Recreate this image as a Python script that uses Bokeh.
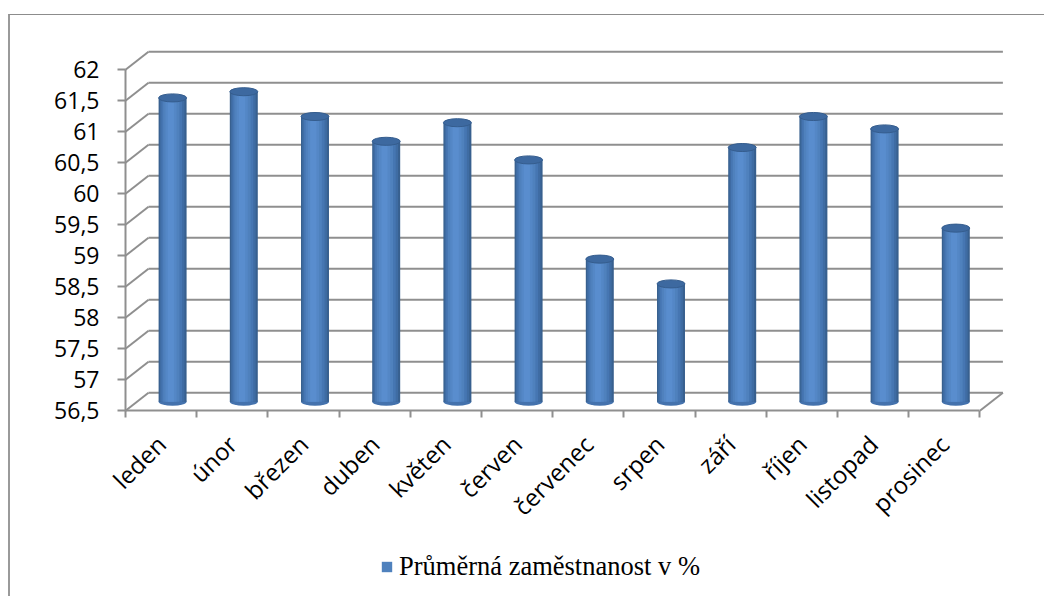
import math
from bokeh.plotting import figure
from bokeh.models import (Range1d, FixedTicker, ColumnDataSource, Legend, LegendItem)
from bokeh.embed import file_html
from bokeh.resources import INLINE

# ---- data ----
months = ["leden", "únor", "březen", "duben", "květen", "červen",
          "červenec", "srpen", "září", "říjen", "listopad", "prosinec"]
values = [61.4, 61.5, 61.1, 60.7, 61.0, 60.4, 58.8, 58.4, 60.6, 61.1, 60.9, 59.3]
y_ticks = [56.5, 57, 57.5, 58, 58.5, 59, 59.5, 60, 60.5, 61, 61.5, 62]
y_tick_labels = ["56,5", "57", "57,5", "58", "58,5", "59", "59,5", "60", "60,5", "61", "61,5", "62"]
series_name = "Průměrná zaměstnanost v %"

# ---- layout / 3D styling constants ----
n = len(months)
ymin = y_ticks[0]
DX = 0.323   # depth offset along x (data units)
DY = 0.29    # depth offset along y (data units)
CYL_W = 0.393
ELL_H = 0.13
GRID = "#8f8f8f"

CANVAS_W, CANVAS_H = 1036, 582
FRAME_TOP = 17
FRAME_LEFT = 10
FRAME_RIGHT_PAD = 31
AXIS_X = 115            # canvas x of the front-left axis
PX_PER_UNIT_Y = 62.0
Y_END = 62.6
Y_START = Y_END - (CANVAS_H - FRAME_TOP) / PX_PER_UNIT_Y
X_END = 12.5
PX_PER_UNIT_X = (CANVAS_W - FRAME_RIGHT_PAD - AXIS_X) / X_END
X_START = -(AXIS_X - FRAME_LEFT) / PX_PER_UNIT_X

p = figure(width=CANVAS_W, height=CANVAS_H,
           x_range=Range1d(X_START, X_END), y_range=Range1d(Y_START, Y_END),
           output_backend="svg", toolbar_location=None,
           min_border_left=FRAME_LEFT, min_border_right=FRAME_RIGHT_PAD,
           min_border_top=FRAME_TOP, min_border_bottom=0,
           styles={"margin-left": "8px", "margin-top": "14px",
                   "border-top": "1px solid #8c8c8c",
                   "border-left": "2px solid #9a9a9a"})
p.xgrid.visible = False
p.ygrid.visible = False
p.outline_line_color = None
p.background_fill_color = "white"
p.border_fill_color = "white"

# back wall gridlines
grid_src = ColumnDataSource(dict(
    x0=[DX] * len(y_ticks), x1=[n + DX] * len(y_ticks),
    y0=[v + DY for v in y_ticks], y1=[v + DY for v in y_ticks]))
p.segment("x0", "y0", "x1", "y1", source=grid_src, line_color=GRID, line_width=2)

# left side-wall diagonals
diag_src = ColumnDataSource(dict(
    x0=[0] * len(y_ticks), x1=[DX] * len(y_ticks),
    y0=list(y_ticks), y1=[v + DY for v in y_ticks]))
p.segment("x0", "y0", "x1", "y1", source=diag_src, line_color=GRID, line_width=2)

# floor right diagonal
p.segment(x0=[n], y0=[ymin], x1=[n + DX], y1=[ymin + DY], line_color=GRID, line_width=2)

# cylinders
cx = [i + 0.5 + DX / 2 for i in range(n)]
bottom = [ymin + DY / 2] * n
tops = [v + DY / 2 for v in values]
src = ColumnDataSource(dict(x=cx, bottom=bottom, top=tops))

p.ellipse(x="x", y="bottom", width=CYL_W, height=ELL_H, source=src,
          fill_color="#4472ad", line_color=None)

layers = [(1.00, 0.000, "#38608f"), (0.88, -0.006, "#3f6ca3"),
          (0.74, -0.012, "#4676b2"), (0.58, -0.018, "#4f81bd"),
          (0.40, -0.022, "#5487c6"), (0.22, -0.024, "#598dce")]
legend_renderer = None
for frac, off, col in layers:
    lsrc = ColumnDataSource(dict(x=[c + off for c in cx], bottom=bottom, top=tops))
    r = p.vbar(x="x", width=CYL_W * frac, bottom="bottom", top="top", source=lsrc,
               fill_color=col, line_color=None)
    if col == "#4f81bd":
        legend_renderer = r

p.ellipse(x="x", y="top", width=CYL_W, height=ELL_H, source=src,
          fill_color="#3d69a0", line_color="#355d8e", line_width=1)

# y axis (front-left edge)
p.yaxis.fixed_location = 0
p.yaxis.bounds = (y_ticks[0], y_ticks[-1])
p.yaxis.ticker = FixedTicker(ticks=y_ticks)
p.yaxis.major_label_overrides = {t: l for t, l in zip(y_ticks, y_tick_labels)}
p.yaxis.axis_line_color = GRID
p.yaxis.axis_line_width = 2
p.yaxis.major_tick_line_color = GRID
p.yaxis.major_tick_line_width = 2
p.yaxis.major_tick_in = 0
p.yaxis.major_tick_out = 8
p.yaxis.minor_tick_line_color = None
p.yaxis.major_label_standoff = 18
p.yaxis.major_label_text_font = "Open Sans"
p.yaxis.major_label_text_font_size = "23px"
p.yaxis.major_label_text_color = "black"

# x axis (front floor edge)
centers = [i + 0.5 for i in range(n)]
bounds_ticks = [float(i) for i in range(n + 1)]
p.xaxis.fixed_location = ymin
p.xaxis.bounds = (0, n)
p.xaxis.ticker = FixedTicker(ticks=centers, minor_ticks=bounds_ticks)
p.xaxis.major_label_overrides = {c: m for c, m in zip(centers, months)}
p.xaxis.axis_line_color = GRID
p.xaxis.axis_line_width = 2
p.xaxis.major_tick_line_color = None
p.xaxis.major_tick_in = 0
p.xaxis.major_tick_out = 0
p.xaxis.minor_tick_line_color = GRID
p.xaxis.minor_tick_line_width = 2
p.xaxis.minor_tick_in = 0
p.xaxis.minor_tick_out = 7
p.xaxis.major_label_orientation = math.pi / 4
p.xaxis.major_label_standoff = 22
p.xaxis.major_label_text_font = "Open Sans"
p.xaxis.major_label_text_font_size = "24px"
p.xaxis.major_label_text_color = "black"

legend = Legend(items=[LegendItem(label=series_name, renderers=[legend_renderer])],
                location=(380 - 10 - FRAME_LEFT, 15), orientation="horizontal",
                glyph_width=13, glyph_height=13, label_height=28,
                label_standoff=6, padding=0, margin=0,
                border_line_color=None, background_fill_alpha=0,
                label_text_font="Liberation Serif", label_text_font_size="26.5px",
                label_text_color="black")
p.add_layout(legend)

open("out.html", "w").write(file_html(p, INLINE))
